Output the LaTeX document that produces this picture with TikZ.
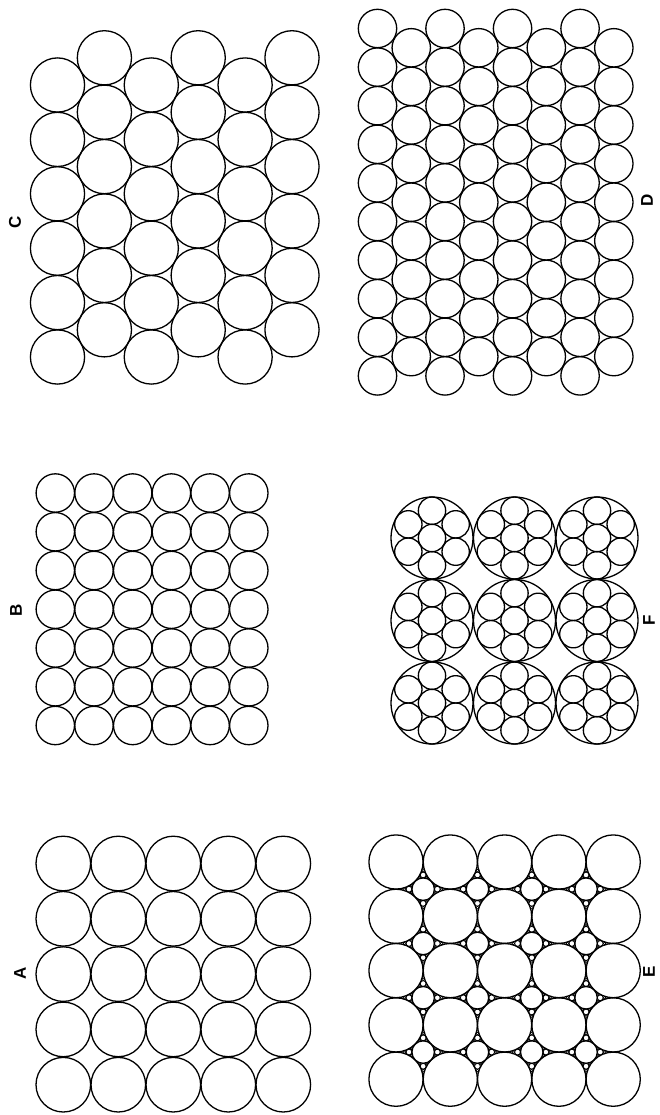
\documentclass[tikz,border=0pt]{standalone}
\usepackage{fontspec}
\setmainfont{Liberation Sans}
\tikzset{
    ball/.style={draw,line width=1.3pt},
    grain/.style={draw,line width=0.9pt},
    dust/.style={draw,line width=0.6pt},
    tag/.style={font=\bfseries\fontsize{17}{20}\selectfont,rotate=90,inner sep=0pt},
}

\begin{document}
\begin{tikzpicture}[x=1pt,y=-1pt]
    \useasboundingbox (0,0) rectangle (660,1115);

    % A: square packing
    \foreach \i in {0,...,4}
        \foreach \j in {0,...,4}
            \draw[ball] (63.3+55*\i,863.5+55.3*\j) circle[radius=27.3pt];
    \node[tag] (labA) at (20,973) {A};

    % B: smaller square packing
    \foreach \i in {0,...,5}
        \foreach \j in {0,...,6}
            \draw[ball] (55.3+38.7*\i,493+38.75*\j) circle[radius=19.2pt];
    \node[tag] (labB) at (16,610) {B};

    % C: hexagonal packing
    \foreach \i in {0,...,5}{
        \pgfmathsetmacro{\dy}{27.2*mod(\i,2)}
        \foreach \j in {0,...,5}
            \draw[ball] (57.5+46.9*\i,85-\dy+54.4*\j) circle[radius=27.1pt];
    }
    \node[tag] (labC) at (15,222) {C};

    % D: smaller hexagonal packing
    \foreach \i in {0,...,7}{
        \pgfmathsetmacro{\yo}{28.5+19.3*mod(\i,2)}
        \pgfmathtruncatemacro{\last}{9-mod(\i,2)}
        \foreach \j in {0,...,\last}
            \draw[ball] (377.5+33.76*\i,\yo+38.6*\j) circle[radius=19.2pt];
    }
    \node[tag] (labD) at (647,200) {D};

    % E: square packing with filled gaps
    \foreach \i in {0,...,4}
        \foreach \j in {0,...,4}
            \draw[ball] (396+54.3*\i,862+54.3*\j) circle[radius=27.1pt];
    \foreach \i in {0,...,3}
        \foreach \j in {0,...,3}{
            \begin{scope}[shift={(423.15+54.3*\i,889.15+54.3*\j)}]
                \draw[ball] (0,0) circle[radius=11.25pt];
                \foreach \a in {0,90,180,270}{
                    \draw[grain,rotate=\a] (14.18,0) circle[radius=2.94pt];
                    \draw[dust,rotate=\a] (18.47,0) circle[radius=1.35pt];
                    \draw[dust,rotate=\a] (11.9,3.35) circle[radius=1.12pt];
                    \draw[dust,rotate=\a] (11.9,-3.35) circle[radius=1.12pt];
                }
            \end{scope}
        }
    \node[tag] (labE) at (649,972) {E};

    % F: bundles of seven
    \foreach \i in {0,1,2}
        \foreach \j in {0,1,2}{
            \begin{scope}[shift={(432+82.5*\i,538+82.5*\j)}]
                \draw[ball] (0,0) circle[radius=41pt];
                \draw[ball] (0,0) circle[radius=13.67pt];
                \foreach \a in {30,90,...,330}
                    \draw[ball] (\a:27.33pt) circle[radius=13.67pt];
            \end{scope}
        }
    \node[tag] (labF) at (649,620) {F};
\end{tikzpicture}
\end{document}
